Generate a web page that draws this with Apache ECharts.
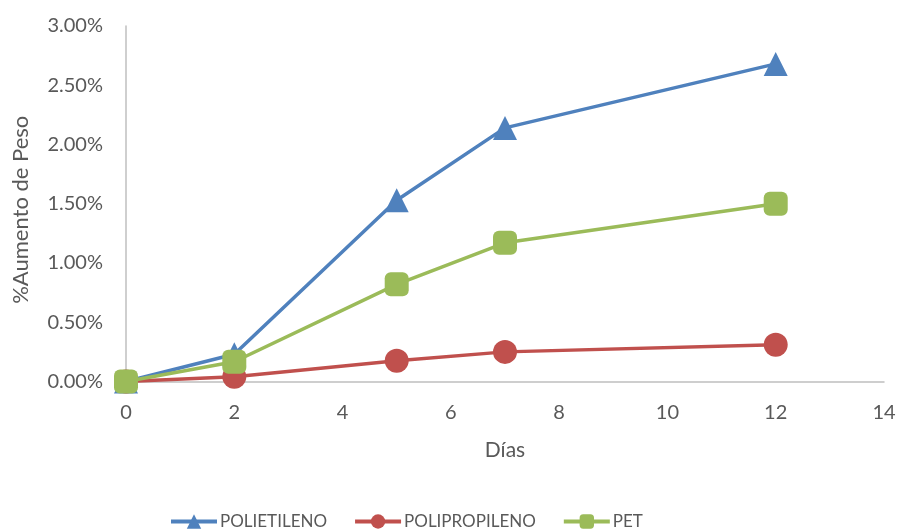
<!DOCTYPE html>
<html>
<head>
<meta charset="utf-8">
<script src="https://cdn.jsdelivr.net/npm/echarts@6/dist/echarts.min.js"></script>
<style>
  html, body { margin: 0; padding: 0; background: #fff; }
  #chart { width: 900px; height: 531px; }
</style>
</head>
<body>
<div id="chart"></div>
<script>
// Días de inmersión
const dias = [0, 2, 5, 7, 12];
// % de aumento de peso por material
const polietileno = [0.00, 0.23, 1.53, 2.14, 2.68];
const polipropileno = [0.00, 0.04, 0.175, 0.25, 0.31];
const pet = [0.00, 0.167, 0.82, 1.17, 1.50];

const FONT = 'Lato, "Open Sans", sans-serif';
const TEXT = '#595959';

function pairs(ys) { return dias.map((d, i) => [d, ys[i]]); }

function serie(name, ys, color, symbol) {
  return {
    name, type: 'line', data: pairs(ys),
    symbol, symbolSize: 24,
    lineStyle: { color, width: 3.5 },
    itemStyle: { color },
    emphasis: { disabled: true },
    animation: false
  };
}

const chart = echarts.init(document.getElementById('chart'));
chart.setOption({
  backgroundColor: '#fff',
  textStyle: { fontFamily: FONT },
  grid: { left: 126, right: 16, top: 26, bottom: 149.5, containLabel: false },
  xAxis: {
    type: 'value', min: 0, max: 14, interval: 2,
    name: 'Días', nameLocation: 'middle', nameGap: 58,
    nameTextStyle: { color: TEXT, fontSize: 21, fontFamily: FONT },
    axisLine: { show: true, lineStyle: { color: '#BFBFBF', width: 1.5 } },
    axisTick: { show: false },
    splitLine: { show: false },
    axisLabel: { color: TEXT, fontSize: 20, fontFamily: FONT, margin: 21 }
  },
  yAxis: {
    type: 'value', min: 0, max: 3, interval: 0.5,
    name: '%Aumento de Peso', nameLocation: 'middle', nameGap: 94, nameRotate: 90,
    nameTextStyle: { color: TEXT, fontSize: 22, fontFamily: FONT, padding: [0, 12, 0, 0] },
    axisLine: { show: true, lineStyle: { color: '#BFBFBF', width: 1.5 } },
    axisTick: { show: false },
    splitLine: { show: false },
    axisLabel: { color: TEXT, fontSize: 20, fontFamily: FONT, margin: 23,
      formatter: v => v.toFixed(2) + '%' }
  },
  legend: {
    bottom: -4, left: 164,
    itemWidth: 46, itemHeight: 18, itemGap: 26,
    lineStyle: { width: 4 },
    textStyle: { color: TEXT, fontSize: 17, fontFamily: FONT, padding: [0, 0, 0, -2] },
    data: ['POLIETILENO', 'POLIPROPILENO', 'PET']
  },
  series: [
    serie('POLIETILENO', polietileno, '#4F81BD', 'triangle'),
    serie('POLIPROPILENO', polipropileno, '#C0504D', 'circle'),
    serie('PET', pet, '#9BBB59', 'roundRect')
  ]
});
</script>
</body>
</html>
